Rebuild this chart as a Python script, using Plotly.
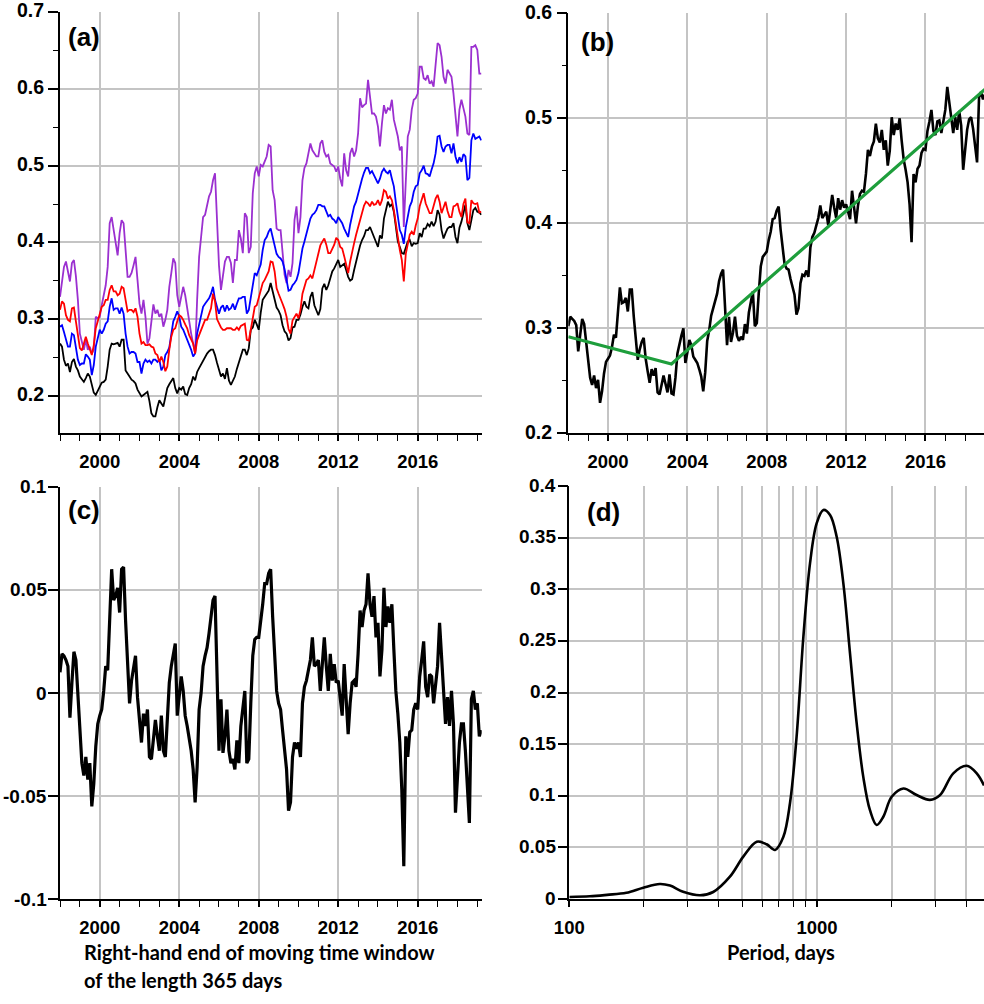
import numpy as np
import plotly.graph_objects as go

# ---------------- data ----------------
# all time series are sampled every 0.1 year starting at 1998.0
years = np.round(1998.0 + 0.1 * np.arange(213), 2)

# panel (a)
purple_a = [0.329, 0.353, 0.368, 0.375, 0.360, 0.349, 0.373, 0.377, 0.356, 0.325,
            0.281, 0.270, 0.260, 0.273, 0.260, 0.264, 0.255, 0.260, 0.303, 0.301,
            0.303, 0.318, 0.329, 0.344, 0.368, 0.425, 0.433, 0.418, 0.403, 0.383,
            0.412, 0.429, 0.425, 0.390, 0.355, 0.355, 0.360, 0.370, 0.381, 0.351,
            0.320, 0.307, 0.325, 0.303, 0.268, 0.275, 0.299, 0.319, 0.307, 0.312,
            0.303, 0.307, 0.290, 0.299, 0.312, 0.342, 0.360, 0.379, 0.373, 0.331,
            0.316, 0.331, 0.342, 0.331, 0.312, 0.294, 0.281, 0.268, 0.255, 0.325,
            0.381, 0.407, 0.433, 0.436, 0.449, 0.460, 0.466, 0.481, 0.490, 0.433,
            0.370, 0.338, 0.355, 0.375, 0.381, 0.381, 0.373, 0.347, 0.377, 0.377,
            0.416, 0.405, 0.386, 0.438, 0.433, 0.386, 0.394, 0.464, 0.490, 0.499,
            0.486, 0.501, 0.499, 0.507, 0.512, 0.527, 0.525, 0.468, 0.455, 0.418,
            0.416, 0.416, 0.390, 0.358, 0.347, 0.364, 0.355, 0.373, 0.429, 0.447,
            0.412, 0.433, 0.481, 0.497, 0.503, 0.514, 0.529, 0.520, 0.516, 0.512,
            0.512, 0.529, 0.533, 0.518, 0.512, 0.514, 0.503, 0.501, 0.499, 0.492,
            0.499, 0.483, 0.473, 0.516, 0.494, 0.486, 0.516, 0.523, 0.512, 0.520,
            0.542, 0.588, 0.576, 0.579, 0.581, 0.612, 0.590, 0.568, 0.568, 0.564,
            0.551, 0.525, 0.555, 0.579, 0.568, 0.575, 0.573, 0.586, 0.560, 0.547,
            0.538, 0.520, 0.525, 0.420, 0.470, 0.538, 0.547, 0.573, 0.586, 0.588,
            0.594, 0.629, 0.629, 0.614, 0.612, 0.618, 0.607, 0.610, 0.603, 0.638,
            0.660, 0.657, 0.642, 0.616, 0.607, 0.625, 0.620, 0.616, 0.594, 0.560,
            0.538, 0.573, 0.586, 0.575, 0.564, 0.542, 0.540, 0.655, 0.655, 0.657,
            0.651, 0.620, 0.620]

blue_a = [0.290, 0.292, 0.283, 0.275, 0.264, 0.264, 0.281, 0.279, 0.260, 0.247,
          0.240, 0.242, 0.242, 0.254, 0.251, 0.247, 0.227, 0.240, 0.264, 0.275,
          0.286, 0.281, 0.286, 0.294, 0.297, 0.316, 0.327, 0.312, 0.314, 0.314,
          0.307, 0.315, 0.307, 0.281, 0.264, 0.255, 0.257, 0.257, 0.255, 0.244,
          0.244, 0.229, 0.242, 0.247, 0.244, 0.246, 0.242, 0.247, 0.247, 0.244,
          0.247, 0.233, 0.238, 0.253, 0.257, 0.263, 0.281, 0.297, 0.303, 0.310,
          0.303, 0.290, 0.286, 0.280, 0.273, 0.266, 0.260, 0.251, 0.255, 0.281,
          0.294, 0.305, 0.316, 0.320, 0.323, 0.327, 0.333, 0.342, 0.325, 0.316,
          0.307, 0.315, 0.318, 0.310, 0.318, 0.312, 0.314, 0.320, 0.312, 0.320,
          0.327, 0.327, 0.329, 0.329, 0.307, 0.312, 0.329, 0.349, 0.360, 0.357,
          0.364, 0.371, 0.390, 0.403, 0.407, 0.414, 0.418, 0.406, 0.394, 0.385,
          0.381, 0.379, 0.375, 0.365, 0.351, 0.337, 0.338, 0.344, 0.347, 0.351,
          0.360, 0.379, 0.392, 0.401, 0.412, 0.423, 0.431, 0.436, 0.438, 0.442,
          0.449, 0.449, 0.447, 0.447, 0.440, 0.434, 0.436, 0.431, 0.429, 0.425,
          0.433, 0.429, 0.425, 0.418, 0.412, 0.407, 0.423, 0.437, 0.447, 0.453,
          0.464, 0.474, 0.483, 0.491, 0.497, 0.497, 0.490, 0.493, 0.488, 0.483,
          0.477, 0.483, 0.492, 0.496, 0.492, 0.490, 0.494, 0.483, 0.473, 0.452,
          0.436, 0.416, 0.410, 0.398, 0.420, 0.436, 0.447, 0.453, 0.466, 0.473,
          0.475, 0.490, 0.494, 0.500, 0.490, 0.489, 0.486, 0.495, 0.503, 0.516,
          0.538, 0.539, 0.525, 0.518, 0.525, 0.527, 0.527, 0.516, 0.529, 0.512,
          0.503, 0.511, 0.505, 0.515, 0.512, 0.481, 0.484, 0.533, 0.542, 0.535,
          0.536, 0.538, 0.533]

red_a = [0.312, 0.323, 0.320, 0.305, 0.299, 0.297, 0.314, 0.315, 0.297, 0.281,
         0.262, 0.259, 0.268, 0.277, 0.268, 0.260, 0.253, 0.266, 0.288, 0.297,
         0.307, 0.316, 0.318, 0.325, 0.325, 0.338, 0.344, 0.336, 0.336, 0.331,
         0.333, 0.342, 0.340, 0.323, 0.310, 0.312, 0.312, 0.309, 0.314, 0.303,
         0.281, 0.268, 0.270, 0.266, 0.266, 0.267, 0.264, 0.263, 0.255, 0.253,
         0.244, 0.251, 0.244, 0.232, 0.238, 0.260, 0.277, 0.286, 0.288, 0.297,
         0.305, 0.303, 0.299, 0.293, 0.288, 0.279, 0.273, 0.268, 0.255, 0.272,
         0.279, 0.286, 0.294, 0.299, 0.299, 0.308, 0.314, 0.333, 0.323, 0.300,
         0.294, 0.289, 0.286, 0.286, 0.288, 0.288, 0.288, 0.286, 0.286, 0.289,
         0.286, 0.291, 0.292, 0.294, 0.273, 0.272, 0.286, 0.304, 0.316, 0.318,
         0.329, 0.337, 0.347, 0.351, 0.357, 0.362, 0.375, 0.374, 0.362, 0.340,
         0.333, 0.325, 0.320, 0.313, 0.303, 0.287, 0.281, 0.298, 0.303, 0.307,
         0.301, 0.312, 0.333, 0.341, 0.351, 0.353, 0.357, 0.353, 0.364, 0.377,
         0.386, 0.396, 0.401, 0.405, 0.397, 0.386, 0.386, 0.392, 0.397, 0.406,
         0.403, 0.394, 0.392, 0.382, 0.370, 0.360, 0.375, 0.389, 0.399, 0.410,
         0.420, 0.431, 0.440, 0.448, 0.453, 0.451, 0.447, 0.453, 0.449, 0.450,
         0.455, 0.448, 0.455, 0.468, 0.466, 0.457, 0.460, 0.455, 0.442, 0.423,
         0.405, 0.390, 0.377, 0.349, 0.385, 0.400, 0.410, 0.414, 0.410, 0.422,
         0.431, 0.447, 0.455, 0.464, 0.451, 0.443, 0.438, 0.438, 0.447, 0.457,
         0.462, 0.453, 0.438, 0.445, 0.453, 0.441, 0.433, 0.433, 0.447, 0.448,
         0.451, 0.440, 0.433, 0.450, 0.457, 0.426, 0.425, 0.455, 0.451, 0.450,
         0.451, 0.439, 0.440]

black_a = [0.268, 0.264, 0.247, 0.239, 0.242, 0.231, 0.244, 0.248, 0.238, 0.233,
           0.225, 0.221, 0.218, 0.223, 0.229, 0.225, 0.216, 0.204, 0.201, 0.207,
           0.212, 0.217, 0.218, 0.221, 0.238, 0.260, 0.268, 0.267, 0.268, 0.269,
           0.264, 0.273, 0.273, 0.233, 0.229, 0.225, 0.221, 0.219, 0.216, 0.208,
           0.204, 0.199, 0.201, 0.203, 0.205, 0.193, 0.177, 0.173, 0.173, 0.185,
           0.194, 0.190, 0.186, 0.198, 0.210, 0.215, 0.220, 0.223, 0.210, 0.203,
           0.210, 0.208, 0.212, 0.202, 0.201, 0.210, 0.215, 0.225, 0.220, 0.231,
           0.236, 0.241, 0.247, 0.252, 0.255, 0.258, 0.260, 0.260, 0.253, 0.243,
           0.233, 0.225, 0.229, 0.222, 0.236, 0.220, 0.214, 0.220, 0.225, 0.235,
           0.244, 0.250, 0.260, 0.260, 0.253, 0.262, 0.286, 0.289, 0.299, 0.293,
           0.286, 0.308, 0.325, 0.329, 0.333, 0.337, 0.347, 0.337, 0.325, 0.315,
           0.311, 0.305, 0.292, 0.284, 0.281, 0.272, 0.275, 0.289, 0.290, 0.299,
           0.299, 0.306, 0.316, 0.323, 0.316, 0.314, 0.329, 0.335, 0.318, 0.312,
           0.305, 0.313, 0.340, 0.346, 0.338, 0.344, 0.355, 0.362, 0.366, 0.372,
           0.377, 0.368, 0.370, 0.372, 0.364, 0.355, 0.350, 0.352, 0.364, 0.375,
           0.386, 0.396, 0.403, 0.408, 0.416, 0.416, 0.420, 0.413, 0.407, 0.400,
           0.394, 0.409, 0.405, 0.431, 0.442, 0.453, 0.447, 0.450, 0.440, 0.420,
           0.401, 0.394, 0.386, 0.385, 0.392, 0.401, 0.403, 0.395, 0.399, 0.398,
           0.399, 0.412, 0.407, 0.418, 0.418, 0.424, 0.421, 0.427, 0.421, 0.427,
           0.442, 0.436, 0.416, 0.405, 0.412, 0.418, 0.420, 0.420, 0.425, 0.407,
           0.399, 0.419, 0.427, 0.437, 0.449, 0.425, 0.416, 0.429, 0.442, 0.445,
           0.440, 0.439, 0.436]

# panel (b)
black_b = [0.302, 0.311, 0.309, 0.307, 0.303, 0.278, 0.294, 0.309, 0.304, 0.286,
           0.266, 0.253, 0.246, 0.255, 0.243, 0.251, 0.229, 0.240, 0.257, 0.268,
           0.271, 0.274, 0.282, 0.294, 0.291, 0.314, 0.339, 0.324, 0.325, 0.329,
           0.316, 0.337, 0.337, 0.311, 0.288, 0.270, 0.280, 0.287, 0.291, 0.271,
           0.259, 0.248, 0.261, 0.255, 0.262, 0.239, 0.237, 0.246, 0.255, 0.247,
           0.239, 0.256, 0.238, 0.237, 0.253, 0.276, 0.286, 0.293, 0.300, 0.267,
           0.277, 0.289, 0.284, 0.273, 0.270, 0.267, 0.261, 0.254, 0.240, 0.258,
           0.288, 0.298, 0.312, 0.319, 0.325, 0.333, 0.345, 0.352, 0.356, 0.316,
           0.284, 0.311, 0.287, 0.296, 0.311, 0.293, 0.288, 0.292, 0.289, 0.304,
           0.295, 0.315, 0.324, 0.335, 0.302, 0.305, 0.334, 0.359, 0.368, 0.371,
           0.373, 0.384, 0.392, 0.404, 0.405, 0.412, 0.416, 0.394, 0.378, 0.361,
           0.357, 0.356, 0.347, 0.339, 0.332, 0.313, 0.319, 0.343, 0.351, 0.350,
           0.355, 0.349, 0.377, 0.387, 0.391, 0.398, 0.405, 0.417, 0.405, 0.408,
           0.411, 0.398, 0.415, 0.427, 0.415, 0.405, 0.424, 0.413, 0.422, 0.415,
           0.418, 0.411, 0.404, 0.431, 0.416, 0.400, 0.417, 0.428, 0.431, 0.430,
           0.447, 0.470, 0.464, 0.473, 0.478, 0.495, 0.481, 0.477, 0.489, 0.470,
           0.479, 0.455, 0.469, 0.501, 0.484, 0.495, 0.489, 0.500, 0.479, 0.461,
           0.451, 0.439, 0.418, 0.382, 0.447, 0.439, 0.452, 0.455, 0.467, 0.471,
           0.470, 0.488, 0.497, 0.508, 0.488, 0.484, 0.497, 0.498, 0.486, 0.496,
           0.508, 0.530, 0.516, 0.503, 0.486, 0.501, 0.489, 0.507, 0.493, 0.451,
           0.471, 0.489, 0.499, 0.501, 0.490, 0.472, 0.458, 0.520, 0.525, 0.518,
           0.523, 0.508, 0.513]

trend_years = [1998.0, 2003.2, 2019.2]
trend_vals = [0.292, 0.266, 0.531]

# panel (c)
resid_c = [0.010, 0.019, 0.018, 0.016, 0.013, -0.012, 0.005, 0.020, 0.016, -0.002,
           -0.021, -0.034, -0.040, -0.031, -0.042, -0.034, -0.055, -0.044, -0.026, -0.015,
           -0.011, -0.008, 0.001, 0.013, 0.011, 0.034, 0.060, 0.045, 0.047, 0.051,
           0.039, 0.060, 0.061, 0.035, 0.013, -0.005, 0.006, 0.013, 0.018, -0.002,
           -0.013, -0.024, -0.010, -0.016, -0.008, -0.031, -0.032, -0.023, -0.013, -0.021,
           -0.028, -0.011, -0.028, -0.031, -0.016, 0.005, 0.013, 0.019, 0.024, -0.011,
           -0.002, 0.008, 0.001, -0.011, -0.016, -0.021, -0.028, -0.037, -0.053, -0.036,
           -0.008, 0.000, 0.013, 0.018, 0.022, 0.029, 0.039, 0.045, 0.047, 0.005,
           -0.028, -0.003, -0.029, -0.021, -0.008, -0.028, -0.034, -0.032, -0.037, -0.023,
           -0.034, -0.016, -0.008, 0.001, -0.034, -0.032, -0.005, 0.018, 0.026, 0.027,
           0.027, 0.037, 0.043, 0.053, 0.053, 0.058, 0.060, 0.037, 0.019, 0.001,
           -0.005, -0.008, -0.018, -0.028, -0.037, -0.057, -0.053, -0.031, -0.024, -0.027,
           -0.024, -0.031, -0.005, 0.003, 0.006, 0.011, 0.016, 0.027, 0.013, 0.014,
           0.016, 0.001, 0.016, 0.027, 0.013, 0.001, 0.019, 0.006, 0.014, 0.005,
           0.006, -0.002, -0.011, 0.014, -0.002, -0.020, -0.005, 0.005, 0.006, 0.003,
           0.019, 0.040, 0.032, 0.040, 0.043, 0.058, 0.043, 0.037, 0.047, 0.027,
           0.034, 0.008, 0.021, 0.051, 0.032, 0.042, 0.034, 0.043, 0.021, 0.001,
           -0.010, -0.024, -0.047, -0.084, -0.021, -0.031, -0.019, -0.018, -0.008, -0.005,
           -0.008, 0.008, 0.016, 0.025, 0.003, -0.002, 0.009, 0.008, -0.005, 0.003,
           0.013, 0.034, 0.018, 0.003, -0.015, -0.002, -0.016, 0.001, -0.015, -0.058,
           -0.040, -0.024, -0.015, -0.015, -0.028, -0.047, -0.063, -0.003, 0.001, -0.008,
           -0.005, -0.021, -0.018]

# panel (d): spectrum vs period (days)
period_d = [100, 121, 142, 170, 199, 232, 255, 288, 337, 381, 445, 504, 571, 626,
            677, 731, 778, 827, 881, 937, 997, 1061, 1129, 1200, 1277, 1359, 1446,
            1538, 1636, 1741, 1852, 2002, 2232, 2525, 2856, 3140, 3550, 4018, 4413, 4722]
power_d = [0.002, 0.0026, 0.004, 0.006, 0.011, 0.0145, 0.013, 0.007, 0.0036, 0.0068,
           0.0216, 0.041, 0.0555, 0.053, 0.0475, 0.060, 0.093, 0.157, 0.254, 0.325,
           0.364, 0.3768, 0.372, 0.351, 0.306, 0.238, 0.170, 0.118, 0.086, 0.0717,
           0.0797, 0.099, 0.107, 0.1007, 0.096, 0.1007, 0.1217, 0.129, 0.1217, 0.110]

year_ticks = [2000, 2004, 2008, 2012, 2016]
a_ticks = [0.2, 0.3, 0.4, 0.5, 0.6, 0.7]
a_text = ["0.2", "0.3", "0.4", "0.5", "0.6", "0.7"]
b_ticks = [0.2, 0.3, 0.4, 0.5, 0.6]
b_text = ["0.2", "0.3", "0.4", "0.5", "0.6"]
c_ticks = [-0.1, -0.05, 0, 0.05, 0.1]
c_text = ["-0.1", "-0.05", "0", "0.05", "0.1"]
d_yticks = [0, 0.05, 0.1, 0.15, 0.2, 0.25, 0.3, 0.35, 0.4]
d_ytext = ["0", "0.05", "0.1", "0.15", "0.2", "0.25", "0.3", "0.35", "0.4"]
d_major = [100, 1000]
d_minor = [200, 300, 400, 500, 600, 700, 800, 900, 2000, 3000, 4000]


def bold(labels):
    return ["<b>%s</b>" % s for s in labels]


# ---------------- figure ----------------
W, H = 984, 1004
fig = go.Figure()

LW_A = 1.8
for series, color in [(purple_a, "#9B30D0"), (blue_a, "#0000FF"), (black_a, "#000000"), (red_a, "#FF0000")]:
    fig.add_trace(go.Scatter(x=years[:len(series)], y=series, mode="lines",
                             line=dict(color=color, width=LW_A), xaxis="x", yaxis="y"))

fig.add_trace(go.Scatter(x=years[:len(black_b)], y=black_b, mode="lines", line=dict(color="#000000", width=2.6),
                         xaxis="x2", yaxis="y2"))
fig.add_trace(go.Scatter(x=trend_years, y=trend_vals, mode="lines", line=dict(color="#1E9E3C", width=3.2),
                         xaxis="x2", yaxis="y2"))

fig.add_trace(go.Scatter(x=years[:len(resid_c)], y=resid_c, mode="lines", line=dict(color="#000000", width=3.2),
                         xaxis="x3", yaxis="y3"))

fig.add_trace(go.Scatter(x=period_d, y=power_d, mode="lines",
                         line=dict(color="#000000", width=2.6, shape="spline", smoothing=1.0),
                         xaxis="x4", yaxis="y4"))

FAM = "Liberation Sans"
GRID = "#C4C4C4"


def tf(size):
    return dict(family=FAM, size=size, color="black", weight=700)


def px_x(a, b):
    return [a / W, b / W]


def px_y(top, bottom):
    return [1 - bottom / H, 1 - top / H]


common_x = dict(showline=True, linecolor="black", linewidth=1.5, ticks="outside", ticklen=6, tickwidth=1.5,
                tickcolor="black", showgrid=True, gridcolor=GRID, gridwidth=1.5, zeroline=False,
                tickfont=tf(18.5), automargin=False, ticklabelstandoff=5)
common_y = dict(showline=True, linecolor="black", linewidth=1.5, ticks="outside", ticklen=10, tickwidth=1.5,
                tickcolor="black", showgrid=True, gridcolor=GRID, gridwidth=1.5, zeroline=False,
                automargin=False, showticklabels=False)

year_minor = dict(dtick=1, tick0=1998, ticks="outside", ticklen=6, tickwidth=1.2, tickcolor="black", showgrid=False)
y_minor = dict(dtick=0.05, tick0=0, ticks="outside", ticklen=5, tickwidth=1.2, tickcolor="black", showgrid=False)
year_text = bold([str(y) for y in year_ticks])

dom_a_x, dom_a_y = px_x(60, 481.7), px_y(12.3, 433.3)
dom_b_x, dom_b_y = px_x(568.3, 984), px_y(13.3, 433.3)
dom_c_x, dom_c_y = px_x(60, 481.7), px_y(486.7, 899.3)
dom_d_x, dom_d_y = px_x(569.3, 984), px_y(486, 899)

fig.update_layout(
    width=W, height=H, template="none", showlegend=False,
    margin=dict(l=0, r=0, t=0, b=0),
    paper_bgcolor="white", plot_bgcolor="white",
    font=dict(family=FAM, size=18, color="black"),
    xaxis=dict(common_x, domain=dom_a_x, range=[1998.0, 2019.22], tickmode="array",
               tickvals=year_ticks, ticktext=year_text, minor=year_minor, anchor="y"),
    yaxis=dict(common_y, domain=dom_a_y, range=[0.151, 0.7], tickmode="array",
               tickvals=a_ticks, minor=y_minor, anchor="x"),
    xaxis2=dict(common_x, domain=dom_b_x, range=[1998.0, 2018.95], tickmode="array",
                tickvals=year_ticks, ticktext=year_text, minor=year_minor, anchor="y2"),
    yaxis2=dict(common_y, domain=dom_b_y, range=[0.2, 0.6], tickmode="array",
                tickvals=b_ticks, minor=y_minor, anchor="x2"),
    xaxis3=dict(common_x, domain=dom_c_x, range=[1998.0, 2019.22], tickmode="array",
                tickvals=year_ticks, ticktext=year_text, minor=year_minor, anchor="y3"),
    yaxis3=dict(common_y, domain=dom_c_y, range=[-0.1, 0.1], tickmode="array",
                tickvals=c_ticks, anchor="x3"),
    xaxis4=dict(common_x, type="log", domain=dom_d_x, range=[2, np.log10(4722)], tickmode="array",
                tickvals=d_major, ticktext=bold(["100", "1000"]),
                minor=dict(tickmode="array", tickvals=d_minor, ticks="outside", ticklen=6, tickwidth=1.2,
                           tickcolor="black", showgrid=True, gridcolor=GRID, gridwidth=1.5),
                anchor="y4"),
    yaxis4=dict(common_y, domain=dom_d_y, range=[0, 0.4], tickmode="array",
                tickvals=d_yticks, anchor="x4"),
)

# y tick labels (bold), placed at the tick values of each y axis
for yref, vals, texts, left_px, gap, size, shift in [
        ("y", a_ticks, a_text, 60, 14, 19.5, 2),
        ("y2", b_ticks, b_text, 568.3, 14, 19.5, 1),
        ("y3", c_ticks, c_text, 60, 11, 19, 0),
        ("y4", d_yticks, d_ytext, 569.3, 11, 19, 1)]:
    for v, t in zip(vals, texts):
        fig.add_annotation(text="<b>%s</b>" % t, x=(left_px - gap) / W, y=v, xref="paper", yref=yref,
                           xanchor="right", yanchor="middle", yshift=shift, showarrow=False,
                           font=tf(size))

label_font = dict(family=FAM, size=26, color="black", weight=700)
for txt, cx, cy in [("(a)", 84, 37), ("(b)", 597.5, 41.7), ("(c)", 84, 510), ("(d)", 603.7, 511.7)]:
    fig.add_annotation(text="<b>%s</b>" % txt, x=cx / W, y=1 - cy / H, xref="paper", yref="paper",
                       xanchor="center", yanchor="middle", showarrow=False, font=label_font)

title_font = dict(family="Lato", size=20, color="black", weight=700)
fig.add_annotation(text="<b>Right-hand end of moving time window</b>", x=82 / W, y=1 - 951.7 / H,
                   xref="paper", yref="paper", xanchor="left", yanchor="middle", showarrow=False, font=title_font)
fig.add_annotation(text="<b>of the length 365 days</b>", x=82 / W, y=1 - 980 / H,
                   xref="paper", yref="paper", xanchor="left", yanchor="middle", showarrow=False, font=title_font)
fig.add_annotation(text="<b>Period, days</b>", x=780.7 / W, y=1 - 951.7 / H,
                   xref="paper", yref="paper", xanchor="center", yanchor="middle", showarrow=False, font=title_font)

fig.write_html("out.html")
